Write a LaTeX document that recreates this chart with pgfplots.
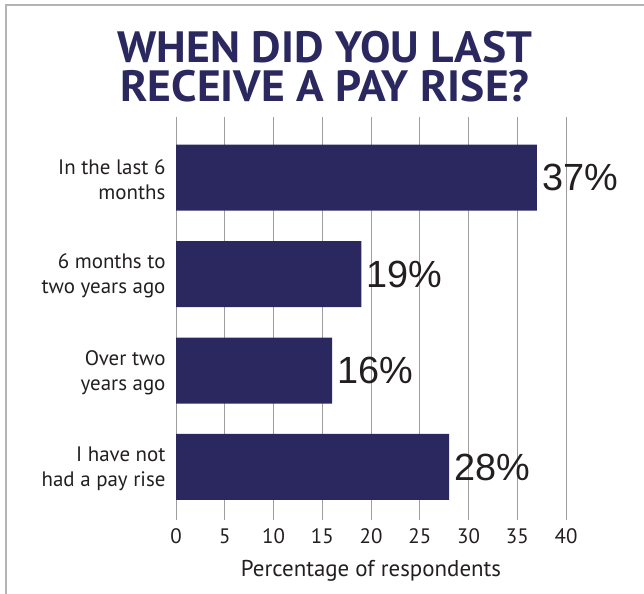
\documentclass[border=0pt]{standalone}
\usepackage{pgfplots}
\pgfplotsset{compat=1.18}
\usepackage{fontspec}
\setmainfont{PT Sans}
\newfontfamily\valfont{Liberation Sans}
\definecolor{navy}{HTML}{2B2860}
\definecolor{txt}{HTML}{231F20}
\definecolor{gridc}{HTML}{9E9E9E}
\definecolor{framec}{HTML}{B4B4B4}
\begin{document}
\begin{tikzpicture}[x=1bp,y=1bp]
\path[use as bounding box] (0,0) rectangle (644,594);
\draw[framec, line width=1.5bp] (6,0) -- (6,589) -- (644,589);
\node[navy, anchor=center, inner sep=0pt, align=center, font=\fontsize{44}{39}\selectfont\bfseries, xscale=1.04] at (325,527.5) {WHEN DID YOU LAST\\RECEIVE A PAY RISE?};
\begin{axis}[
  at={(176bp,74bp)}, anchor=south west, scale only axis,
  width=390bp, height=403bp,
  xmin=0, xmax=40, ymin=-0.63, ymax=3.55, y dir=reverse,
  xbar, bar width=66bp,
  axis line style={draw=none},
  xmajorgrids, grid style={gridc, line width=0.8bp},
  xtick={0,5,...,40}, ytick={0,1,2,3},
  yticklabels={{In the last 6\\months},{6 months to\\two years ago},{Over two\\years ago},{I have not\\had a pay rise}},
  yticklabel style={align=right, font=\fontsize{21}{25}\selectfont, text=txt, xshift=-7bp, yshift=-2bp},
  xticklabel style={font=\fontsize{21}{24}\selectfont, text=txt, yshift=-5bp},
  /pgf/number format/assume math mode=true,
  major tick length=0,
  xlabel={Percentage of respondents},
  xlabel style={font=\fontsize{23}{26}\selectfont, text=txt, yshift=-10bp},
  point meta=x,
  nodes near coords={\pgfmathprintnumber{\pgfplotspointmeta}\%},
  nodes near coords style={font=\valfont\fontsize{38}{40}\selectfont, text=txt, anchor=west, xshift=2bp},
]
\addplot[fill=navy, draw=none] coordinates {(37,0) (19,1) (16,2) (28,3)};
\end{axis}
\end{tikzpicture}
\end{document}
